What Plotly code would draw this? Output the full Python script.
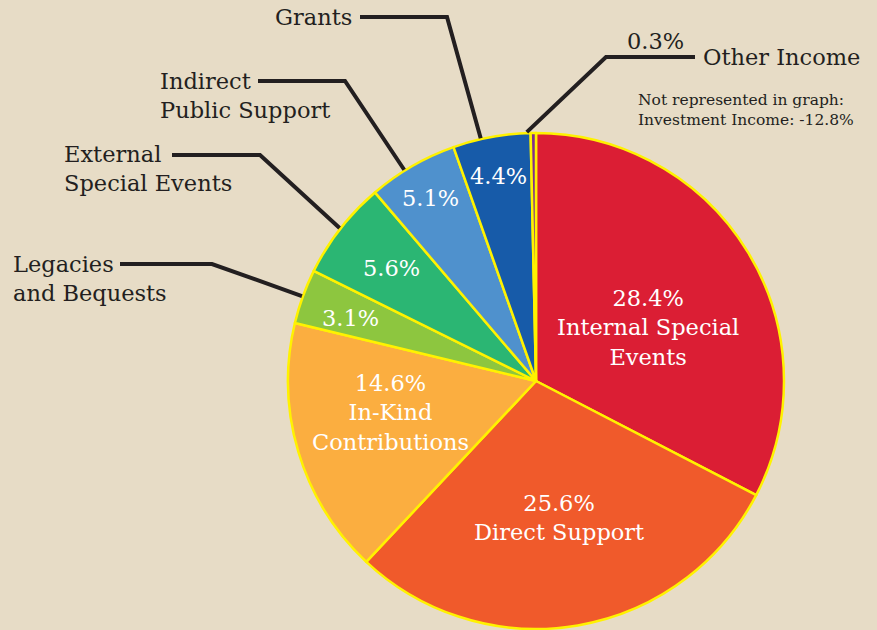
import math
import plotly.graph_objects as go

# ---- data ----
categories = ["Internal Special Events", "Direct Support", "In-Kind Contributions",
              "Legacies and Bequests", "External Special Events",
              "Indirect Public Support", "Grants", "Other Income"]
values = [28.4, 25.6, 14.6, 3.1, 5.6, 5.1, 4.4, 0.3]
inside_labels = ["Internal Special<br>Events", "Direct Support", "In-Kind<br>Contributions",
                 "", "", "", "", ""]
outside_labels = ["", "", "", "Legacies<br>and Bequests", "External<br>Special Events",
                  "Indirect<br>Public Support", "Grants", "Other Income"]
note_text = "Not represented in graph:<br>Investment Income: -12.8%"

# ---- style ----
colors = ["#db1e34", "#f05a2b", "#fbae40", "#8dc63f", "#2bb673",
          "#4f91cd", "#175ba9", "#7d2f8f"]
BG = "#e7dcc6"
EDGE = "#fff200"
INK = "#231f20"
W, H = 877, 630
CX, CY, R = 536, 381, 248
SERIF = "DejaVu Serif, Liberation Serif, serif"
FS = 22.5

def px(x):
    return x / W

def py(y):
    return 1 - y / H

total = sum(values)
mids, cum = [], 0.0
for v in values:
    span = v / total * 360
    mids.append(cum + span / 2)
    cum += span

def polar(theta, r):
    t = math.radians(theta)
    return CX + r * math.sin(t), CY - r * math.cos(t)

fig = go.Figure(go.Pie(
    labels=categories, values=values, sort=False, direction="clockwise",
    rotation=0, textinfo="none", hoverinfo="label+percent",
    marker=dict(colors=colors, line=dict(color=EDGE, width=2.5)),
    domain=dict(x=[px(CX - R), px(CX + R)], y=[py(CY + R), py(CY - R)]),
    showlegend=False,
))

# inside labels (radius fraction, angle tweak)
inside_pos = [(0.50, 5.6), (0.56, 0), (0.60, 4.5), (0.79, -1.3), (0.74, 0),
              (0.85, 0), (0.84, 0), None]
annotations = []
for i, pos in enumerate(inside_pos):
    if pos is None:
        continue
    frac, dth = pos
    x, y = polar(mids[i] + dth, frac * R)
    txt = f"{values[i]:.1f}%"
    if inside_labels[i]:
        txt += "<br>" + inside_labels[i]
    annotations.append(dict(
        x=px(x), y=py(y), xref="paper", yref="paper", text=txt, showarrow=False,
        xanchor="center", yanchor="middle", align="center",
        font=dict(family=SERIF, size=FS, color="white")))

# outside labels with leader lines
leaders = {
    3: dict(lx=11, ly=278, anchor="left", ax=120, ay=264, bx=212, by=264, dth=0),
    4: dict(lx=62, ly=169, anchor="left", ax=172, ay=155, bx=260, by=155, dth=0),
    5: dict(lx=158, ly=95, anchor="left", ax=258, ay=81, bx=345, by=81, dth=-2),
    6: dict(lx=354, ly=17, anchor="right", ax=360, ay=17, bx=447, by=17, dth=-2.5),
}
shapes = []
for i, d in leaders.items():
    ex, ey = polar(mids[i] + d["dth"], R + 1)
    path = f"M {px(d['ax'])},{py(d['ay'])} L {px(d['bx'])},{py(d['by'])} L {px(ex)},{py(ey)}"
    shapes.append(dict(type="path", path=path, xref="paper", yref="paper",
                       line=dict(color=INK, width=4)))
    annotations.append(dict(
        x=px(d["lx"]), y=py(d["ly"]), xref="paper", yref="paper",
        text=outside_labels[i], showarrow=False, xanchor=d["anchor"], yanchor="middle",
        align="left", font=dict(family=SERIF, size=FS, color=INK)))

# Other Income leader
ex, ey = polar(mids[7] - 1.5, R + 1)
path = f"M {px(ex)},{py(ey)} L {px(606)},{py(57)} L {px(695)},{py(57)}"
shapes.append(dict(type="path", path=path, xref="paper", yref="paper",
                   line=dict(color=INK, width=4)))
annotations.append(dict(
    x=px(701), y=py(57), xref="paper", yref="paper", text=outside_labels[7],
    showarrow=False, xanchor="left", yanchor="middle",
    font=dict(family=SERIF, size=FS, color=INK)))
annotations.append(dict(
    x=px(655), y=py(41), xref="paper", yref="paper", text=f"{values[7]:.1f}%",
    showarrow=False, xanchor="center", yanchor="middle",
    font=dict(family=SERIF, size=FS, color=INK)))
annotations.append(dict(
    x=px(636), y=py(110), xref="paper", yref="paper", text=note_text,
    showarrow=False, xanchor="left", yanchor="middle", align="left",
    font=dict(family=SERIF, size=15.5, color=INK)))

fig.update_layout(
    width=W, height=H, margin=dict(l=0, r=0, t=0, b=0),
    paper_bgcolor=BG, plot_bgcolor=BG,
    shapes=shapes, annotations=annotations,
)
fig.write_html("out.html", config={"displayModeBar": False})

# remove the browser's default page margin so the figure fills the window
with open("out.html", encoding="utf-8") as f:
    html = f.read()
html = html.replace("<body>", f'<body style="margin:0;background:{BG};overflow:hidden">', 1)
with open("out.html", "w", encoding="utf-8") as f:
    f.write(html)
